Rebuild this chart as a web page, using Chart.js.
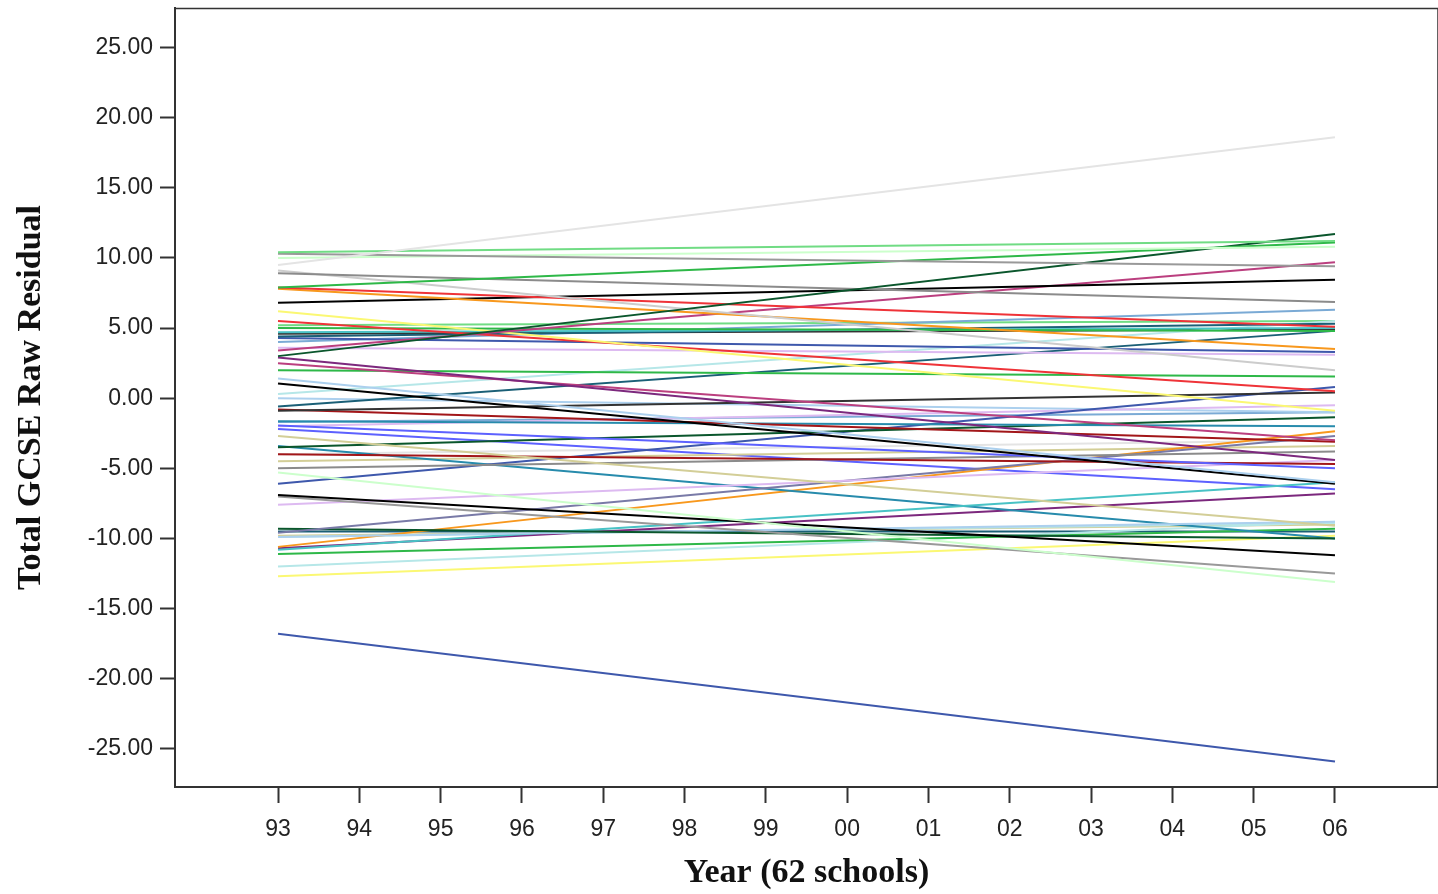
<!DOCTYPE html>
<html>
<head>
<meta charset="utf-8">
<title>Total GCSE Raw Residual by Year</title>
<script src="https://cdn.jsdelivr.net/npm/chart.js@4.4.1/dist/chart.umd.min.js"></script>
<style>
  html, body { margin: 0; padding: 0; background: #ffffff; }
  #wrap { width: 1438px; height: 894px; }
</style>
</head>
<body>
<div id="wrap"><canvas id="residuals" width="1438" height="894"></canvas></div>
<script>
// Year categories along the horizontal axis
const yearLabels = ['93', '94', '95', '96', '97', '98', '99', '00', '01', '02', '03', '04', '05', '06'];
// Each school's fitted line runs from the first to the last year
const fitYears = ['93', '06'];
// Vertical tick values
const yTickValues = [-25, -20, -15, -10, -5, 0, 5, 10, 15, 20, 25];

// Fitted residual in 93 for each of the 62 schools
const schoolStart = [
  9.5, 10.4, 10.3, 10.0, 7.9, 3.0, 8.9, 9.1, 7.9, 7.8,
  6.8, 3.4, 6.2, 5.5, 5.0, 4.7, 4.4, 4.3, 4.0, 3.6,
  2.9, 2.5, 2.0, 1.4, 1.05, 0.3, -0.6, -0.9, -0.8, -1.65,
  -1.95, -2.7, -3.5, -4.0, -5.0, -5.3, -6.1, -6.9, -7.0, -7.6,
  -9.6, -9.3, -9.9, -10.8, -3.4, -10.6, -10.7, -11.1, -12.0, -12.7,
  -16.8, -2.0, -4.5, -2.2, -9.5, 5.2, -4.0, -9.9, 0.0, -1.7,
  4.6, -9.8
];
// Fitted residual in 06 for the same schools
const schoolEnd = [
  18.6, 11.2, 9.4, 10.8, 11.1, 11.7, 6.85, 2.0, 5.1, 3.5,
  8.45, 9.7, -0.9, 0.5, 4.8, 5.0, 5.3, 3.3, 6.3, 3.1,
  -4.4, -3.0, 1.55, -6.0, -6.1, 5.5, 4.8, 0.4, -3.1, -2.0,
  -5.0, -9.1, -1.35, -4.7, -3.8, -13.1, 0.8, -11.2, -12.5, -4.4,
  -2.7, -10.0, -8.8, -6.0, -10.0, -2.35, -6.8, -9.3, -8.8, -9.8,
  -25.9, -0.5, -3.4, -6.5, -9.5, 5.5, -3.0, -8.9, -1.0, -1.0,
  4.9, -9.0
];

// Line colour for each school
const lineColors = [
  '#E4E4E4', '#70DC84', '#999999', '#CCFFCC', '#2EB848', '#0A562C', '#8B8B8B', '#CCCCCC', '#EF3338', '#F8981D',
  '#000000', '#BB3F7F', '#FBF873', '#EF3338', '#2EB848', '#48C2C5', '#1A5F76', '#3E58AC', '#7AAAD5', '#DDBAF1',
  '#7C287D', '#BB3F7F', '#2EB848', '#ACD0EE', '#000000', '#B6E7E8', '#1A5F76', '#333333', '#A21619', '#278BAC',
  '#5D61FF', '#D3CE97', '#0A562C', '#A21619', '#8B8B8B', '#CCFFCC', '#3E58AC', '#000000', '#999999', '#DDBAF1',
  '#797AA7', '#0A562C', '#ACD0EE', '#48C2C5', '#278BAC', '#F8981D', '#7C287D', '#2EB848', '#B6E7E8', '#FBF873',
  '#3E58AC', '#DDBAF1', '#D3CE97', '#5D61FF', '#1A5F76', '#70DC84', '#E4E4E4', '#B6E7E8', '#ACD0EE', '#7AAAD5',
  '#333333', '#D3CE97'
];

const datasets = schoolStart.map((startVal, i) => ({
  label: 'School ' + (i + 1),
  data: [
    { x: yearLabels.indexOf(fitYears[0]), y: startVal },
    { x: yearLabels.indexOf(fitYears[1]), y: schoolEnd[i] }
  ],
  borderColor: lineColors[i],
  borderWidth: 2,
  pointRadius: 0,
  fill: false,
  tension: 0
}));

// Closes the plot frame along the top and right
const frameLines = {
  id: 'frameLines',
  afterDraw(chart) {
    const { ctx, chartArea: a } = chart;
    ctx.save();
    ctx.strokeStyle = '#333333';
    ctx.lineWidth = 1.5;
    ctx.beginPath();
    ctx.moveTo(a.left, a.top + 0.5);
    ctx.lineTo(a.right, a.top + 0.5);
    ctx.lineTo(a.right - 0.5, a.bottom);
    ctx.stroke();
    ctx.restore();
  }
};

const tickFont = { family: "'Liberation Sans', Arial, sans-serif", size: 23 };
const titleFont = { family: "'Liberation Serif', 'Times New Roman', serif", size: 34, weight: 'bold' };

new Chart(document.getElementById('residuals'), {
  type: 'line',
  data: { datasets },
  options: {
    responsive: false,
    animation: false,
    events: [],
    layout: { padding: { top: 8, right: 0, left: 0, bottom: 0 } },
    plugins: {
      legend: { display: false },
      tooltip: { enabled: false }
    },
    scales: {
      x: {
        type: 'linear',
        min: -1.267,
        max: yearLabels.length - 1 + 1.267,
        afterBuildTicks: (scale) => {
          scale.ticks = yearLabels.map((_, i) => ({ value: i }));
        },
        ticks: {
          callback: (v) => yearLabels[v],
          font: tickFont,
          color: '#222222',
          padding: 13,
          maxRotation: 0,
          autoSkip: false
        },
        grid: {
          drawOnChartArea: false,
          drawTicks: true,
          tickLength: 16,
          tickColor: '#333333',
          tickWidth: 2
        },
        border: { display: true, color: '#333333', width: 2 },
        title: {
          display: true,
          text: 'Year (62 schools)',
          font: titleFont,
          color: '#111111',
          padding: { top: 0, bottom: 0 }
        },
        afterFit: (scale) => {
          scale.height = 107;
          scale.paddingLeft = 0;
          scale.paddingRight = 0;
        }
      },
      y: {
        type: 'linear',
        min: -27.72,
        max: 27.82,
        afterBuildTicks: (scale) => {
          scale.ticks = yTickValues.map((v) => ({ value: v }));
        },
        ticks: {
          callback: (v) => Number(v).toFixed(2),
          font: tickFont,
          color: '#222222',
          padding: 7
        },
        grid: {
          drawOnChartArea: false,
          drawTicks: true,
          tickLength: 15,
          tickColor: '#333333',
          tickWidth: 2
        },
        border: { display: true, color: '#333333', width: 2 },
        title: {
          display: true,
          text: 'Total GCSE Raw Residual',
          font: titleFont,
          color: '#111111',
          padding: { top: 11, bottom: 0 }
        },
        afterFit: (scale) => {
          scale.width = 175;
          scale.paddingTop = 0;
          scale.paddingBottom = 0;
        }
      }
    }
  },
  plugins: [frameLines]
});
</script>
</body>
</html>
